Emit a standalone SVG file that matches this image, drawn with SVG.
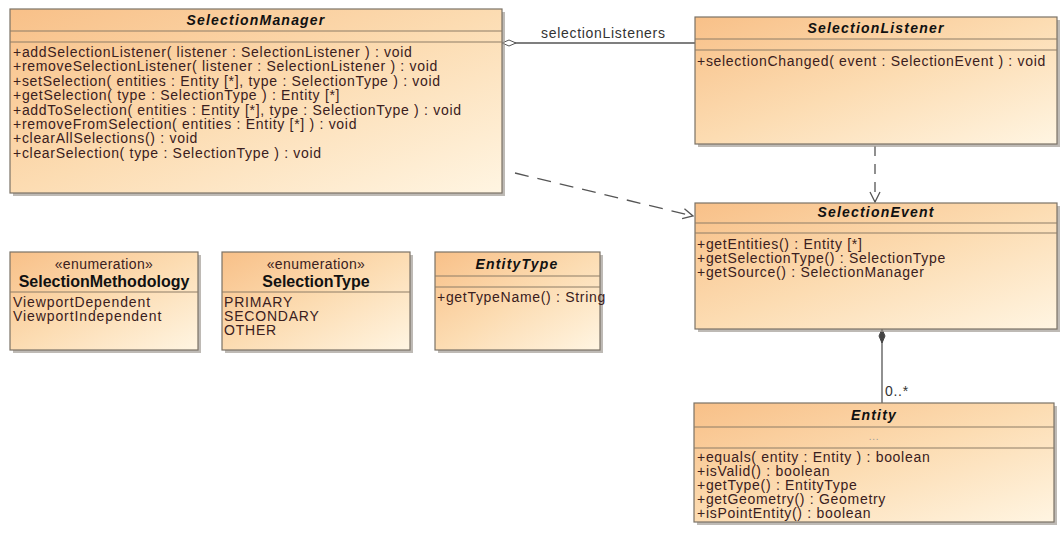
<svg xmlns="http://www.w3.org/2000/svg" width="1061" height="535" viewBox="0 0 1061 535">
<style>
.box{stroke:#7b7266;stroke-width:1.2;fill:url(#g)}
.sh{fill:#a39d96;opacity:0.7}
.sep{stroke:#8d7c66;stroke-width:1}
.t{font-family:"Liberation Sans",Arial,sans-serif;font-size:14px;fill:#3a2020;letter-spacing:0.7px}
.e{font-family:"Liberation Sans",Arial,sans-serif;font-size:14px;fill:#3a2020;letter-spacing:0.9px}
.n{font-family:"Liberation Sans",Arial,sans-serif;font-size:14px;font-weight:bold;font-style:italic;fill:#111;letter-spacing:1.2px;text-anchor:middle}
.eb{font-family:"Liberation Sans",Arial,sans-serif;font-size:16px;font-weight:bold;fill:#111;text-anchor:middle}
.c{text-anchor:middle}
.ln{stroke:#555;stroke-width:1.3;fill:none}
.lbl{font-family:"Liberation Sans",Arial,sans-serif;font-size:14px;fill:#333;letter-spacing:0.7px}
</style>
<defs>
<linearGradient id="g" x1="0" y1="0" x2="1" y2="1">
<stop offset="0" stop-color="#f8c088"/>
<stop offset="0.5" stop-color="#fcdcb2"/>
<stop offset="1" stop-color="#fff5e2"/>
</linearGradient>
<marker id="open" viewBox="0 0 12 12" refX="11" refY="6" markerWidth="12" markerHeight="12" markerUnits="userSpaceOnUse" orient="auto">
<path d="M1,1 L11,6 L1,11" fill="none" stroke="#555" stroke-width="1.3"/>
</marker>
<marker id="hdia" viewBox="0 0 16 8" refX="1" refY="4" markerWidth="16" markerHeight="8" markerUnits="userSpaceOnUse" orient="auto">
<path d="M1,4 L8,1 L15,4 L8,7 Z" fill="#fff" stroke="#555" stroke-width="1"/>
</marker>
<marker id="fdia" viewBox="0 0 16 8" refX="1" refY="4" markerWidth="16" markerHeight="8" markerUnits="userSpaceOnUse" orient="auto">
<path d="M1,4 L8,1 L15,4 L8,7 Z" fill="#444" stroke="#444" stroke-width="1"/>
</marker>
</defs>
<rect width="1061" height="535" fill="#fff"/>

<g id="connectors">
<line class="ln" x1="502" y1="43" x2="695" y2="43" marker-start="url(#hdia)"/>
<text class="lbl" x="541" y="38">selectionListeners</text>
<line class="ln" x1="515" y1="173" x2="693" y2="216" stroke-dasharray="14 9" marker-end="url(#open)"/>
<line class="ln" x1="875" y1="146" x2="875" y2="202" stroke-dasharray="10 8" marker-end="url(#open)"/>
<line class="ln" x1="882" y1="329" x2="882" y2="403" marker-start="url(#fdia)"/>
<text class="lbl" x="885" y="396">0..*</text>
</g>

<g id="SelectionManager">
<rect class="sh" x="13" y="12" width="492" height="184"/>
<rect class="box" x="10" y="9" width="492" height="184"/>
<line class="sep" x1="10" y1="31" x2="502" y2="31"/>
<line class="sep" x1="10" y1="42" x2="502" y2="42"/>
<text class="n" x="256" y="25">SelectionManager</text>
<text class="t" x="13" y="57">+addSelectionListener( listener : SelectionListener ) : void</text>
<text class="t" x="13" y="71.4">+removeSelectionListener( listener : SelectionListener ) : void</text>
<text class="t" x="13" y="85.8">+setSelection( entities : Entity [*], type : SelectionType ) : void</text>
<text class="t" x="13" y="100.2">+getSelection( type : SelectionType ) : Entity [*]</text>
<text class="t" x="13" y="114.6">+addToSelection( entities : Entity [*], type : SelectionType ) : void</text>
<text class="t" x="13" y="129">+removeFromSelection( entities : Entity [*] ) : void</text>
<text class="t" x="13" y="143.4">+clearAllSelections() : void</text>
<text class="t" x="13" y="157.8">+clearSelection( type : SelectionType ) : void</text>
</g>

<g id="SelectionListener">
<rect class="sh" x="698" y="20" width="362" height="127"/>
<rect class="box" x="695" y="17" width="362" height="127"/>
<line class="sep" x1="695" y1="39" x2="1057" y2="39"/>
<line class="sep" x1="695" y1="50" x2="1057" y2="50"/>
<text class="n" x="876" y="33">SelectionListener</text>
<text class="t" x="697" y="66">+selectionChanged( event : SelectionEvent ) : void</text>
</g>

<g id="SelectionEvent">
<rect class="sh" x="698" y="206" width="362" height="126"/>
<rect class="box" x="695" y="203" width="362" height="126"/>
<line class="sep" x1="695" y1="223" x2="1057" y2="223"/>
<line class="sep" x1="695" y1="233" x2="1057" y2="233"/>
<text class="n" x="876" y="217">SelectionEvent</text>
<text class="t" x="697" y="249">+getEntities() : Entity [*]</text>
<text class="t" x="697" y="263">+getSelectionType() : SelectionType</text>
<text class="t" x="697" y="277">+getSource() : SelectionManager</text>
</g>

<g id="Entity">
<rect class="sh" x="697" y="406" width="360" height="119"/>
<rect class="box" x="694" y="403" width="360" height="119"/>
<line class="sep" x1="694" y1="427" x2="1054" y2="427"/>
<line class="sep" x1="694" y1="448" x2="1054" y2="448"/>
<text class="n" x="874" y="420">Entity</text>
<text class="t c" x="874" y="440" style="font-size:10px;fill:#999">...</text>
<text class="t" x="697" y="462">+equals( entity : Entity ) : boolean</text>
<text class="t" x="697" y="476">+isValid() : boolean</text>
<text class="t" x="697" y="490">+getType() : EntityType</text>
<text class="t" x="697" y="504">+getGeometry() : Geometry</text>
<text class="t" x="697" y="518">+isPointEntity() : boolean</text>
</g>

<g id="SelectionMethodology">
<rect class="sh" x="13" y="255" width="188" height="98"/>
<rect class="box" x="10" y="252" width="188" height="98"/>
<line class="sep" x1="10" y1="292" x2="198" y2="292"/>
<text class="e c" x="104" y="269" style="letter-spacing:0.4px">«enumeration»</text>
<text class="eb" x="104" y="287">SelectionMethodology</text>
<text class="e" x="13" y="307">ViewportDependent</text>
<text class="e" x="13" y="321">ViewportIndependent</text>
</g>

<g id="SelectionType">
<rect class="sh" x="225" y="255" width="188" height="98"/>
<rect class="box" x="222" y="252" width="188" height="98"/>
<line class="sep" x1="222" y1="292" x2="410" y2="292"/>
<text class="e c" x="316" y="269" style="letter-spacing:0.4px">«enumeration»</text>
<text class="eb" x="316" y="287">SelectionType</text>
<text class="e" x="224" y="307" style="letter-spacing:0.8px">PRIMARY</text>
<text class="e" x="224" y="321" style="letter-spacing:0.8px">SECONDARY</text>
<text class="e" x="224" y="335" style="letter-spacing:0.8px">OTHER</text>
</g>

<g id="EntityType">
<rect class="sh" x="438" y="255" width="165" height="98"/>
<rect class="box" x="435" y="252" width="165" height="98"/>
<line class="sep" x1="435" y1="276" x2="600" y2="276"/>
<line class="sep" x1="435" y1="287" x2="600" y2="287"/>
<text class="n" x="517" y="269">EntityType</text>
<text class="t" x="437" y="302">+getTypeName() : String</text>
</g>
</svg>
